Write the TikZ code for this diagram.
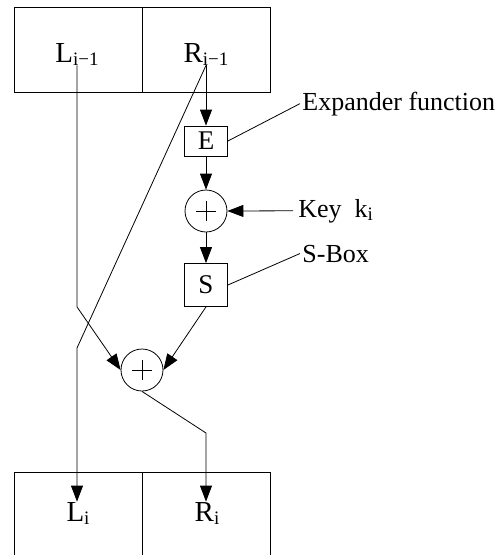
\documentclass[tikz,border=0pt]{standalone}
\usepackage{fontspec}
\setmainfont{Liberation Serif}
\usetikzlibrary{arrows.meta}
\newcommand{\sbs}[1]{\raisebox{-3pt}{\fontsize{19}{19}\selectfont #1}}
\begin{document}
\begin{tikzpicture}[x=1pt,y=-1pt,line width=0.8pt,
  half/.style={draw,minimum width=128pt,minimum height=85pt,inner sep=0pt,outer sep=0pt,anchor=north west},
  lowhalf/.style={half,minimum height=110pt},
  reglbl/.style={inner sep=0pt,anchor=base,font=\fontsize{29}{32}\selectfont},
  fnbox/.style={draw,inner sep=0pt,font=\fontsize{27}{30}\selectfont},
  xorc/.style={draw,circle,minimum size=42pt,inner sep=0pt},
  note/.style={inner xsep=2pt,inner ysep=0pt,anchor=base west,font=\fontsize{26}{30}\selectfont},
  arr/.style={-{Triangle[length=16pt,width=12pt]}},
  thin/.style={line width=0.7pt}]
\useasboundingbox (0,0) rectangle (501,555);
\clip (0,0) rectangle (501,555);
% top register
\node[half] (topL) at (14,7) {};
\node[half] (topR) at (142,7) {};
\node[reglbl] (Lprev) at (77,62) {L\sbs{i−1}};
\node[reglbl] (Rprev) at (206,62) {R\sbs{i−1}};
% bottom register
\node[lowhalf] (botL) at (14,472) {};
\node[lowhalf] (botR) at (142,472) {};
\node[reglbl] (Li) at (78,521) {L\sbs{i}};
\node[reglbl] (Ri) at (207,521) {R\sbs{i}};
% function blocks
\node[fnbox,minimum width=43pt,minimum height=30pt] (E) at (206,141) {E};
\node[xorc] (x1) at (206,211) {};
\node[fnbox,minimum width=43pt,minimum height=43pt] (S) at (206,285) {S};
\node[xorc] (x2) at (142,370) {};
\draw[thin] ([xshift=-10pt]x1.center) -- ([xshift=10pt]x1.center)
            ([yshift=-10pt]x1.center) -- ([yshift=10pt]x1.center);
\draw[thin] ([xshift=-10pt]x2.center) -- ([xshift=10pt]x2.center)
            ([yshift=-10pt]x2.center) -- ([yshift=10pt]x2.center);
% notes
\node[note] (expl) at (300,110) {Expander function};
\node[note] (key) at (293,217) {\hspace{3pt}Key\ \ k\sbs{i}};
\node[note] (sbl) at (300,262) {S-Box};
% connectors
\coordinate (crossbend) at (77,348);
\coordinate (outbend) at (206,433);
\draw[arr] (Rprev.south) -- (E.north);
\draw[arr] (E.south) -- (x1.north);
\draw[arr] (x1.south) -- (S.north);
\draw[arr] (key.west) -- (x1.east);
\draw (E.east) -- (expl.west);
\draw (S.east) -- (sbl.west);
\draw[arr] (Lprev.south) -- (Lprev.south |- S.south) -- (x2.west);
\draw[arr] (S.south) -- (x2.east);
\draw[arr] (Rprev.south) -- (crossbend) -- (crossbend |- Li.north);
\draw[arr] (x2.south) -- (outbend) -- (outbend |- Ri.north);
\end{tikzpicture}
\end{document}
